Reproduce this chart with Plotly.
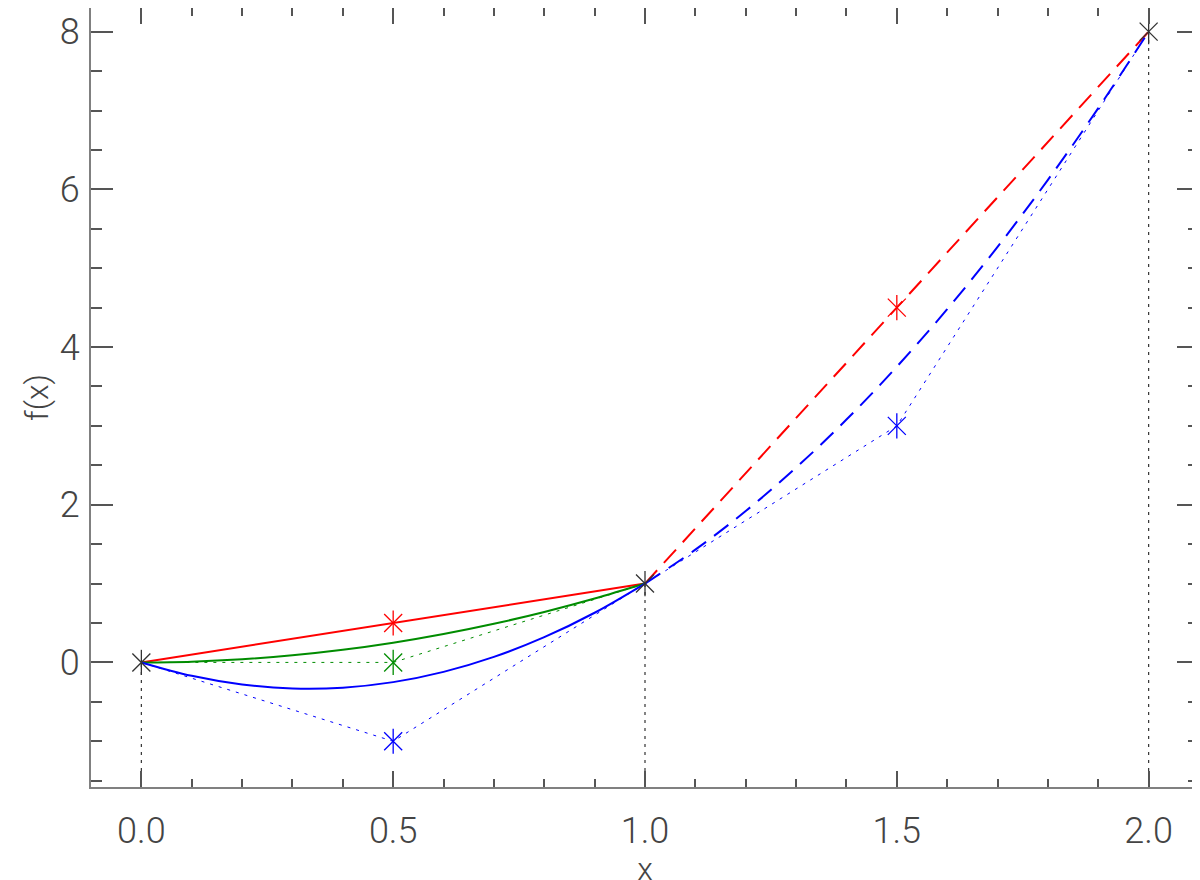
import plotly.graph_objects as go

# knots (black stars)
knot_x = [0.0, 1.0, 2.0]
knot_y = [0.0, 1.0, 8.0]

# control points
red_ctrl_x = [0.5, 1.5]
red_ctrl_y = [0.5, 4.5]
green_ctrl_x = [0.5]
green_ctrl_y = [0.0]
blue_ctrl_x = [0.5, 1.5]
blue_ctrl_y = [-1.0, 3.0]

# curves
green_curve_x = [0.0, 0.1, 0.2, 0.3, 0.4, 0.5, 0.6, 0.7, 0.8, 0.9, 1.0]
green_curve_y = [0.0, 0.01, 0.04, 0.09, 0.16, 0.25, 0.36, 0.49, 0.64, 0.81, 1.0]
blue_curve_x = [0.0, 0.1, 0.2, 0.3, 0.4, 0.5, 0.6, 0.7, 0.8, 0.9, 1.0]
blue_curve_y = [0.0, -0.17, -0.28, -0.33, -0.32, -0.25, -0.12, 0.07, 0.32, 0.63, 1.0]
blue_dash_x = [1.0, 1.1, 1.2, 1.3, 1.4, 1.5, 1.6, 1.7, 1.8, 1.9, 2.0]
blue_dash_y = [1.0, 1.43, 1.92, 2.47, 3.08, 3.75, 4.48, 5.27, 6.12, 7.03, 8.0]

x_range = [-0.1, 2.1]
y_range = [-1.58, 8.3]

RED = "#ff0000"
GREEN = "#008c00"
BLUE = "#0000ff"
BLACK = "#333333"

fig = go.Figure()


def line(x, y, color, width, dash="solid", shape="linear"):
    fig.add_trace(go.Scatter(x=x, y=y, mode="lines",
                             line=dict(color=color, width=width, dash=dash, shape=shape),
                             hoverinfo="skip"))


def stars(x, y, color):
    for sym in ["x-thin-open", "line-ns-open"]:
        fig.add_trace(go.Scatter(x=x, y=y, mode="markers",
                                 marker=dict(symbol=sym, size=18, color=color,
                                             line=dict(color=color, width=1.3)),
                                 hoverinfo="skip"))


# drop lines from the bottom axis up to each knot
drop_x, drop_y = [], []
for kx, ky in zip(knot_x, knot_y):
    drop_x += [kx, kx, None]
    drop_y += [y_range[0], ky, None]
line(drop_x, drop_y, BLACK, 1.2, dash="3px,5px")

# control polygons (dotted)
line([knot_x[0], green_ctrl_x[0], knot_x[1]], [knot_y[0], green_ctrl_y[0], knot_y[1]],
     GREEN, 1, dash="3px,6px")
line([knot_x[0], blue_ctrl_x[0], knot_x[1], blue_ctrl_x[1], knot_x[2]],
     [knot_y[0], blue_ctrl_y[0], knot_y[1], blue_ctrl_y[1], knot_y[2]],
     BLUE, 1, dash="3px,6px")

# curves
line([knot_x[0], red_ctrl_x[0], knot_x[1]], [knot_y[0], red_ctrl_y[0], knot_y[1]], RED, 2)
line(green_curve_x, green_curve_y, GREEN, 2, shape="spline")
line(blue_curve_x, blue_curve_y, BLUE, 2, shape="spline")
line([knot_x[1], red_ctrl_x[1], knot_x[2]], [knot_y[1], red_ctrl_y[1], knot_y[2]],
     RED, 2, dash="18px,10px")
line(blue_dash_x, blue_dash_y, BLUE, 2, dash="18px,10px", shape="spline")

stars(red_ctrl_x, red_ctrl_y, RED)
stars(green_ctrl_x, green_ctrl_y, GREEN)
stars(blue_ctrl_x, blue_ctrl_y, BLUE)
stars(knot_x, knot_y, BLACK)

axis_common = dict(
    showgrid=False, zeroline=False, showline=True, linecolor="#808080", linewidth=2,
    mirror="ticks", ticks="inside", tickcolor="#555555", tickwidth=1.5,
    automargin=False,
    tickfont=dict(family="Roboto", size=36, color="#444444", weight=300),
)

# page body has an 8px margin, so the plot box is shifted up/left by 8px
fig.update_layout(
    width=1200, height=880,
    margin=dict(l=83, r=9, t=0, b=101),
    plot_bgcolor="white", paper_bgcolor="white",
    showlegend=False,
    font=dict(family="Roboto", color="#444444", weight=300),
    xaxis=dict(range=x_range, dtick=0.5, tick0=0, tickformat=".1f", ticklen=16,
               minor=dict(dtick=0.1, ticklen=8, ticks="inside", tickcolor="#555555"),
               title=dict(text="x", font=dict(size=32, weight=300), standoff=16),
               ticklabelstandoff=11, **axis_common),
    yaxis=dict(range=y_range, dtick=2, tick0=0, ticklen=22,
               minor=dict(dtick=0.5, ticklen=11, ticks="inside", tickcolor="#555555"),
               title=dict(text="f(x)", font=dict(size=32, weight=300), standoff=2),
               ticklabelstandoff=2, **axis_common),
)

fig.write_html("out.html")
